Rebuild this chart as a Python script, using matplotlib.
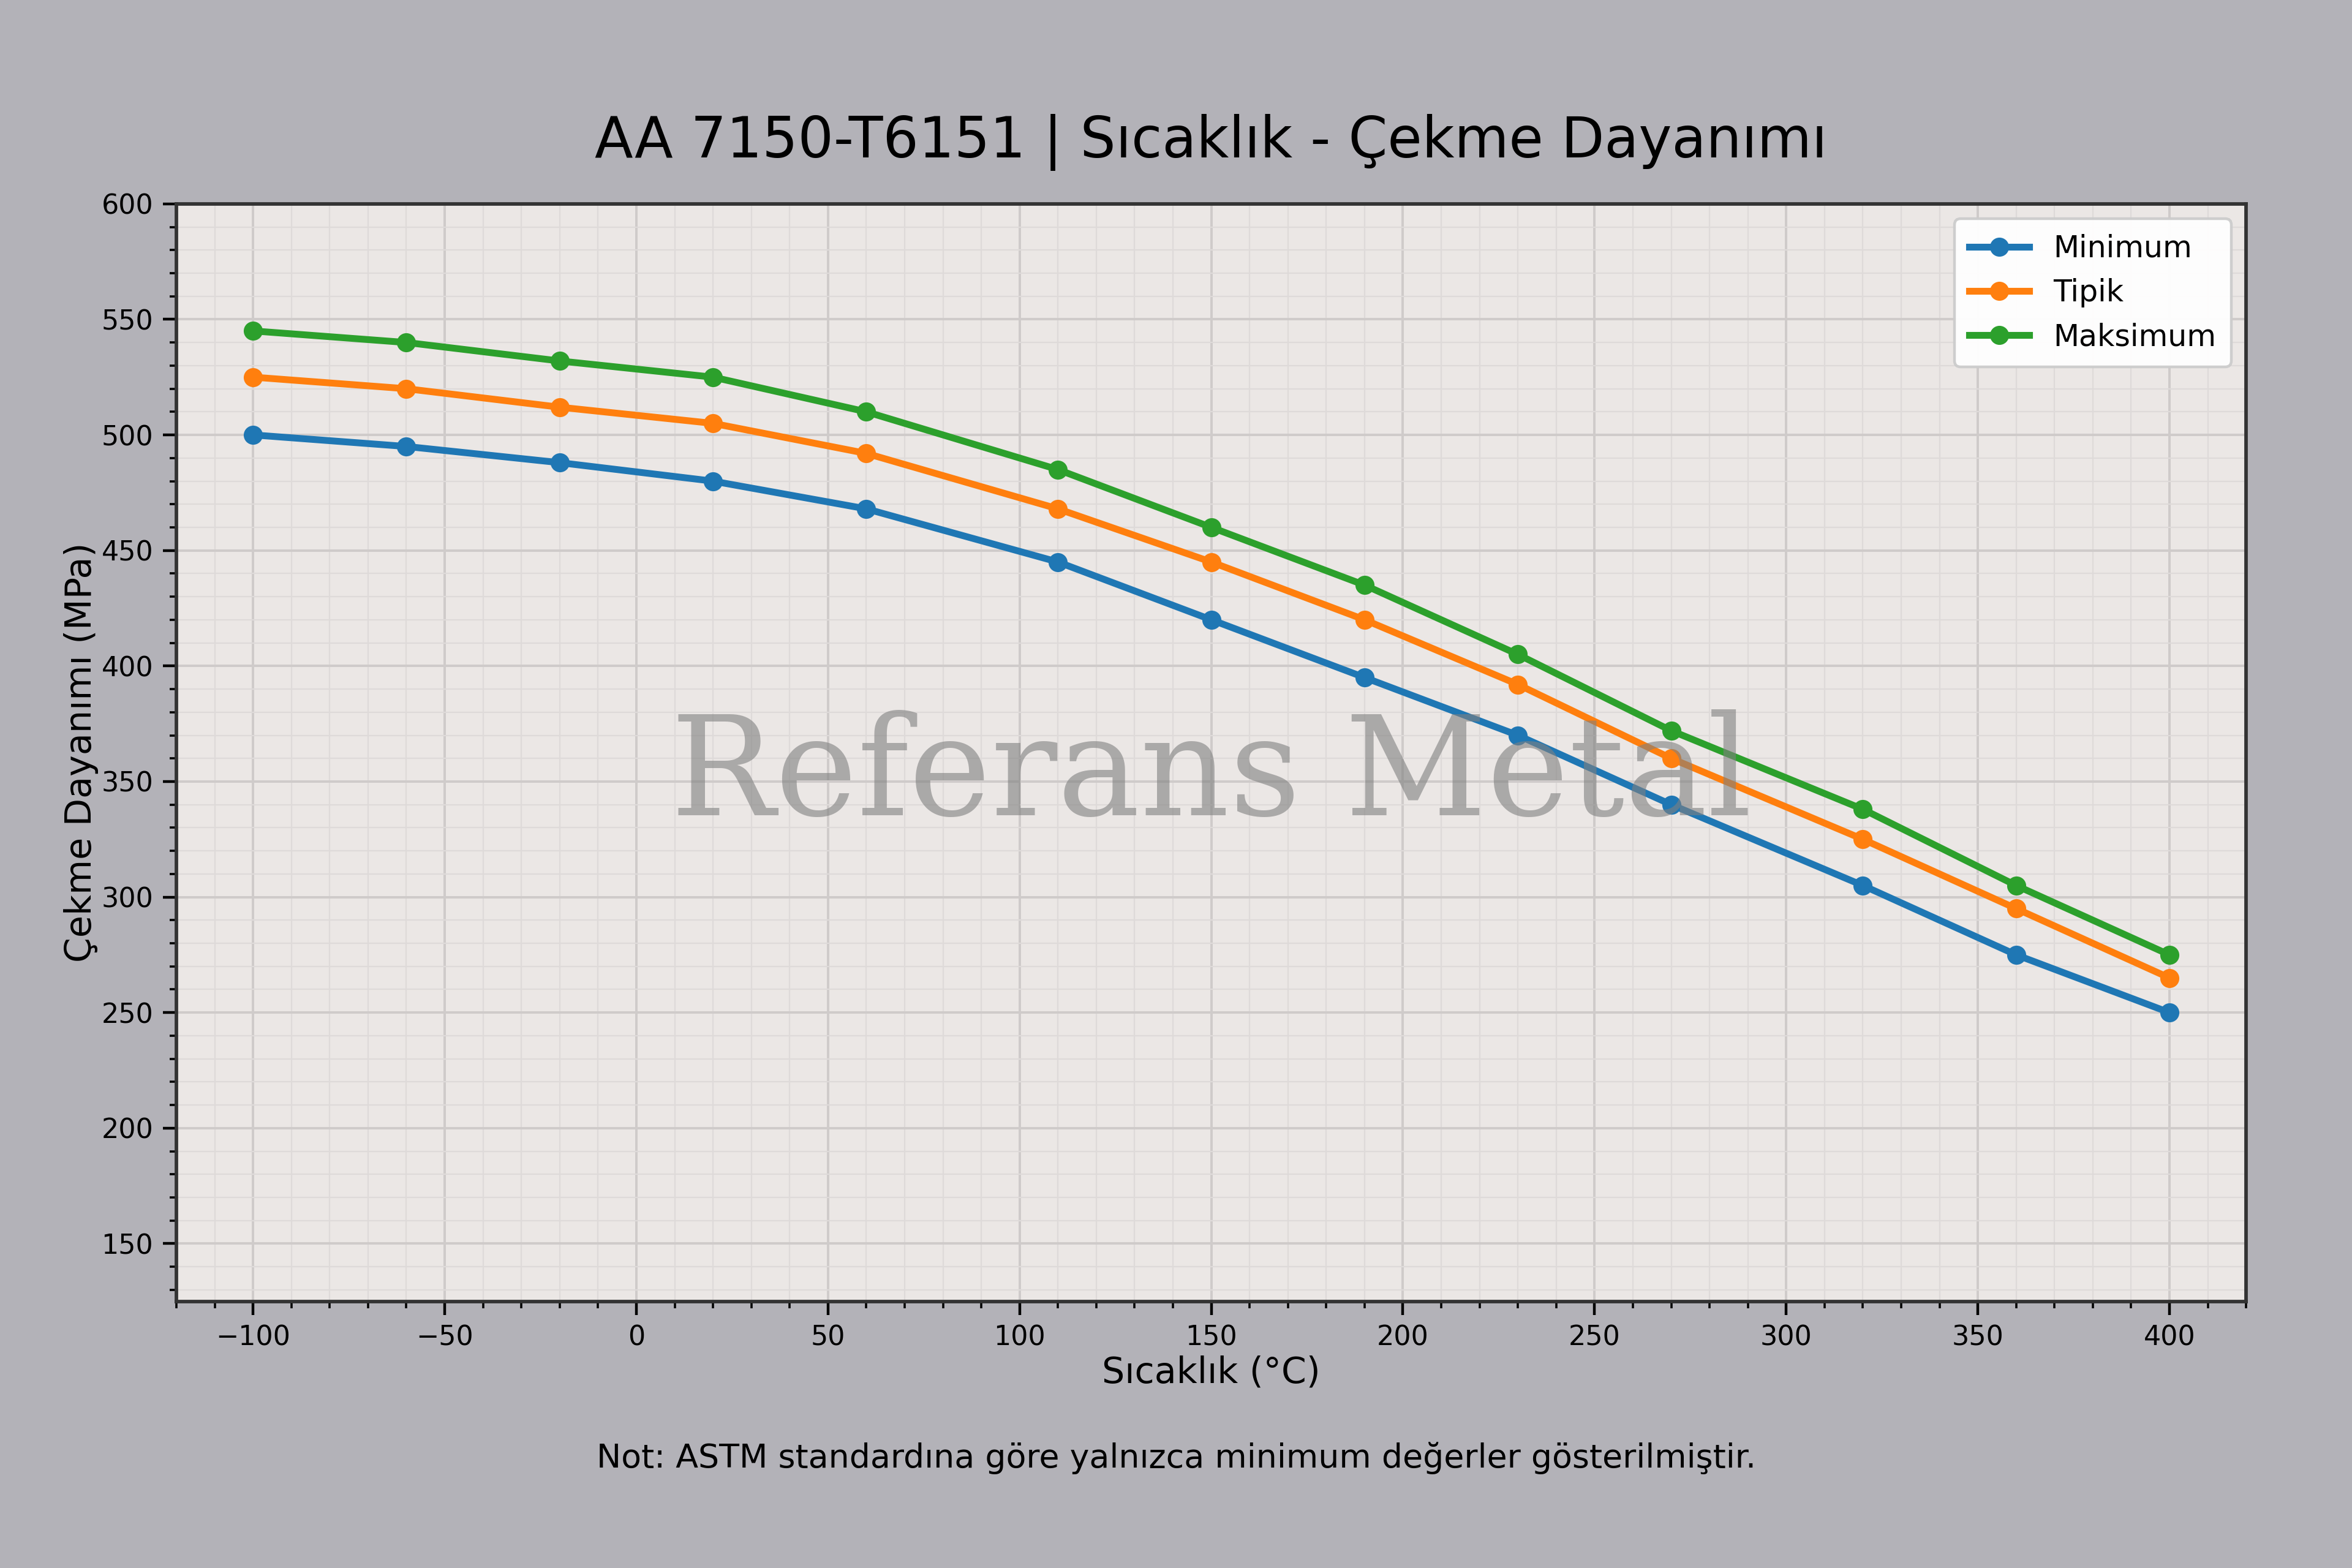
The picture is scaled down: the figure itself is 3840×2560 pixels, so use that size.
import numpy as np
import matplotlib
matplotlib.use("Agg")
import matplotlib.pyplot as plt
from matplotlib.ticker import MultipleLocator

# ---------- Veri ----------
sicaklik = [-100, -60, -20, 20, 60, 110, 150, 190, 230, 270, 320, 360, 400]
minimum = [500, 495, 488, 480, 468, 445, 420, 395, 370, 340, 305, 275, 250]
tipik = [525, 520, 512, 505, 492, 468, 445, 420, 392, 360, 325, 295, 265]
maksimum = [545, 540, 532, 525, 510, 485, 460, 435, 405, 372, 338, 305, 275]

seriler = [("Minimum", minimum, "#1f77b4"),
           ("Tipik", tipik, "#ff7f0e"),
           ("Maksimum", maksimum, "#2ca02c")]

# ---------- Figür ----------
fig = plt.figure(figsize=(12, 8), dpi=320, facecolor="#b3b2b8")
ax = fig.add_axes([0.075, 0.170, 0.880, 0.700])
ax.set_facecolor("#ebe7e5")

for ad, y, renk in seriler:
    ax.plot(sicaklik, y, marker="o", markersize=6, linewidth=2.5, color=renk, label=ad, zorder=3)

ax.set_xlim(-120, 420)
ax.set_ylim(125, 600)
ax.xaxis.set_major_locator(MultipleLocator(50))
ax.xaxis.set_minor_locator(MultipleLocator(10))
ax.yaxis.set_major_locator(MultipleLocator(50))
ax.yaxis.set_minor_locator(MultipleLocator(10))

ax.grid(which="major", color="#cfcbca", linewidth=0.9, zorder=0)
ax.grid(which="minor", color="#dedad9", linewidth=0.5, zorder=0)
ax.set_axisbelow(True)

for sp in ax.spines.values():
    sp.set_color("#333333")
    sp.set_linewidth(1.3)
ax.tick_params(which="major", labelsize=10, length=5, width=1.0)
ax.tick_params(which="minor", length=2.5, width=0.8)

ax.set_xlabel("Sıcaklık (°C)", fontsize=13.2, labelpad=1.5)
ax.set_ylabel("Çekme Dayanımı (MPa)", fontsize=13.2, labelpad=1)

leg = ax.legend(loc="upper right", fontsize=11, framealpha=0.95, borderpad=0.5)
leg.get_frame().set_edgecolor("#cccccc")

# filigran
ax.text(0.5, 0.478, "Referans Metal", transform=ax.transAxes, ha="center", va="center",
        fontsize=51, family="DejaVu Serif", color="gray", alpha=0.6, zorder=5)

ax.set_title("AA 7150-T6151 | Sıcaklık - Çekme Dayanımı", fontsize=20.6, pad=17)
fig.text(0.5, 0.07, "Not: ASTM standardına göre yalnızca minimum değerler gösterilmiştir.",
         ha="center", va="center", fontsize=12.1)

fig.savefig("out.png", dpi=320, facecolor=fig.get_facecolor())
